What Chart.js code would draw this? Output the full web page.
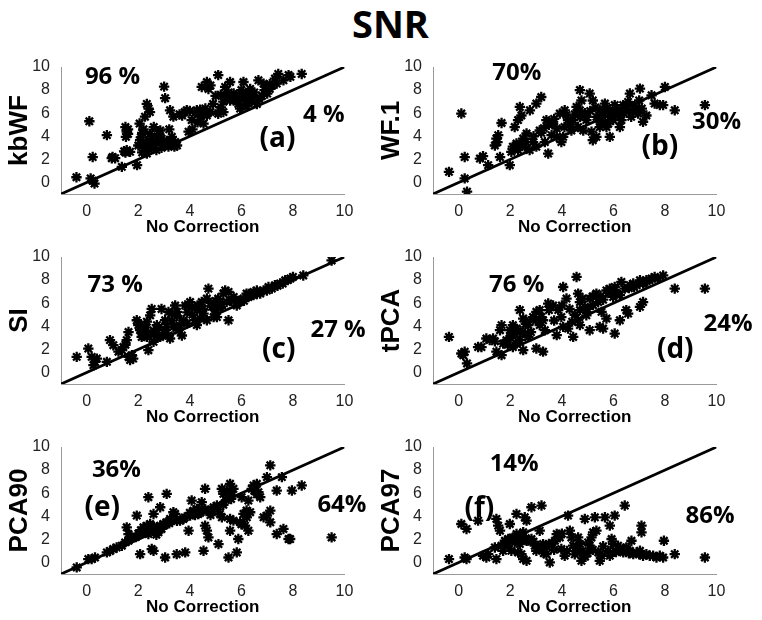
<!DOCTYPE html>
<html>
<head>
<meta charset="utf-8">
<script src="https://cdn.jsdelivr.net/npm/chart.js@4.4.1/dist/chart.umd.min.js"></script>
<style>
  body { margin: 0; background: #fff; }
  #wrap { position: relative; width: 762px; height: 620px; overflow: hidden; }
  #title { position: absolute; left: 0; top: -3px; width: 781px; text-align: center;
           font: bold 38px "Open Sans", sans-serif; color: #000; }
  canvas { position: absolute; }
</style>
</head>
<body>
<div id="wrap">
  <div id="title">SNR</div>
  <canvas id="pa" width="380" height="190" style="left:0;top:50px"></canvas>
  <canvas id="pb" width="390" height="190" style="left:372px;top:50px"></canvas>
  <canvas id="pc" width="380" height="190" style="left:0;top:240px"></canvas>
  <canvas id="pd" width="390" height="190" style="left:372px;top:240px"></canvas>
  <canvas id="pe" width="380" height="190" style="left:0;top:430px"></canvas>
  <canvas id="pf" width="390" height="190" style="left:372px;top:430px"></canvas>
</div>
<script>
'use strict'

// tick values shared by every panel
const xTicks = [0, 2, 4, 6, 8, 10];
const yTicks = [0, 2, 4, 6, 8, 10];
const axisRange = [-1, 10];   // also the ends of the y = x line

// panel names (y axis titles) and the text shown in each panel
const methods = ['kbWF', 'WF.1', 'SI', 'tPCA', 'PCA90', 'PCA97'];
const aboveLine = ['96 %', '70%', '73 %', '76 %', '36%', '14%'];
const belowLine = ['4 %', '30%', '27 %', '24%', '64%', '86%'];
const tags = ['(a)', '(b)', '(c)', '(d)', '(e)', '(f)'];

// points: [No Correction, method]
const kbWFPts = [[-0.4,0.45],[0.1,5.3],[0.23,2.2],[0.15,0.35],[0.3,-0.1],[0.22,0.15],[0.78,4.1],[0.97,2.1],[1.1,2.1],[1.0,2.2],
  [1.36,1.35],[1.5,4.8],[1.55,4.4],[1.52,3.95],[1.6,4.6],[1.55,2.8],[1.68,2.65],[1.5,2.6],[1.95,1.5],[2.05,5.1],
  [2.07,3.66],[2.2,3.37],[2.0,3.2],[2.1,3.9],[2.15,4.3],[2.33,6.8],[2.4,6.4],[2.26,5.7],[2.45,4.2],[2.5,3.8],
  [2.6,3.4],[2.4,2.9],[2.7,2.8],[2.33,2.5],[2.25,3.0],[2.6,4.8],[2.85,4.5],[2.75,4.0],[2.9,3.8],[3.0,8.3],
  [3.04,7.3],[2.85,3.5],[3.04,3.2],[3.17,3.1],[2.9,3.0],[3.23,6.25],[3.36,5.7],[3.3,3.95],[3.43,3.5],[3.5,3.2],
  [3.2,4.6],[3.6,5.9],[3.7,5.8],[3.88,6.25],[4.07,5.4],[3.95,4.4],[4.1,4.6],[4.27,6.25],[4.4,5.7],[4.53,5.1],
  [4.66,5.8],[4.3,5.2],[4.46,8.27],[4.66,8.7],[4.72,8.1],[4.9,6.8],[4.8,6.1],[5.1,9.3],[5.17,6.25],[5.1,5.95],
  [5.3,6.1],[5.0,7.5],[5.37,8.27],[5.43,7.55],[5.56,8.7],[5.56,7.1],[5.7,7.7],[5.82,7.4],[5.88,6.8],[5.95,6.4],
  [6.0,8.0],[6.08,8.7],[6.2,7.7],[6.27,7.1],[6.34,8.1],[6.1,7.2],[6.47,7.4],[6.6,6.8],[6.4,7.0],[6.66,8.85],
  [6.86,8.56],[7.0,8.27],[7.1,8.1],[7.0,7.7],[6.9,8.0],[7.3,9.0],[7.43,9.4],[7.37,8.56],[7.2,8.4],[7.63,8.85],
  [7.83,9.3],[7.9,9.15],[8.34,9.4],[5.3,7.0],[5.9,7.6],[6.3,7.5],[4.2,6.0],[3.8,6.1],
  [2.3,3.5],[2.5,3.1],[2.7,3.6],[2.8,4.2],[3.1,3.6],[3.3,3.3],[2.2,4.6],[2.45,6.1],[4.5,6.0],[4.6,6.4],
  [4.0,6.2],[4.4,6.3],[5.2,7.6],[5.5,7.8],[5.7,7.1],[6.0,7.5],[6.2,6.6],[6.5,7.8],[6.7,7.2],[6.8,7.5],
  [7.1,8.5],[6.0,6.6],[5.2,6.5],[4.8,8.4],[1.45,2.7],[1.6,4.2],[3.4,3.1],[2.15,2.6]];

const wf1Pts = [[-0.38,0.92],[0.1,5.97],[0.23,2.2],[0.23,0.35],[0.32,-0.8],[0.82,2.07],[0.94,2.28],[1.14,1.5],[1.4,3.2],[1.46,3.8],
  [1.53,4.1],[1.6,2.2],[1.66,5.15],[1.98,1.5],[2.04,2.65],[2.1,3.1],[2.24,3.37],[2.17,4.8],[2.3,5.4],[2.37,6.54],
  [2.43,5.8],[2.5,3.8],[2.63,4.24],[2.56,3.1],[2.75,2.8],[2.76,6.25],[3.01,6.83],[3.14,4.5],[3.2,7.4],[2.88,3.5],
  [3.01,3.1],[3.34,3.5],[3.47,2.5],[3.4,5.4],[3.66,5.1],[3.8,4.67],[3.6,4.1],[3.8,3.95],[3.92,5.97],[4.11,6.25],
  [4.24,5.4],[4.37,4.5],[4.05,3.95],[3.98,3.5],[4.57,6.54],[4.7,8.0],[4.76,7.1],[4.7,5.68],[4.83,4.5],[4.63,4.8],
  [5.08,7.7],[5.2,7.1],[4.95,5.4],[5.15,4.4],[5.2,3.66],[5.34,3.95],[5.47,6.25],[5.54,5.8],[5.6,5.4],[5.67,6.83],
  [5.73,6.4],[5.86,5.97],[5.86,5.4],[5.86,3.95],[5.99,6.25],[6.05,6.7],[6.18,5.8],[6.25,4.8],[6.31,5.4],[6.38,6.7],
  [6.5,6.4],[6.57,6.97],[6.69,5.68],[6.77,6.1],[6.9,6.4],[6.64,7.7],[7.03,8.13],[6.96,5.97],[7.15,5.25],[7.28,5.8],
  [7.48,7.55],[7.6,6.83],[7.8,6.7],[7.93,6.7],[8.0,8.27],[8.38,6.25],[9.55,6.7],[4.18,5.83],[4.44,5.4],[4.7,6.25],
  [4.95,5.68],[5.34,5.68],[5.73,4.8],[5.99,5.4],[5.47,4.8],
  [2.2,3.0],[2.4,3.3],[2.6,3.5],[2.3,2.8],[2.9,4.0],[3.2,4.3],[3.5,5.0],[3.7,5.5],[4.3,5.0],[4.5,5.9],
  [4.9,6.0],[5.1,6.2],[5.3,6.5],[5.6,6.0],[5.8,5.1],[6.0,5.9],[6.2,6.3],[6.4,6.0],[6.6,6.2],[6.8,6.6],
  [7.0,7.1],[7.1,6.4],[5.5,5.2],[4.1,4.8],[1.5,3.5],[3.3,4.7]];

const siPts = [[-0.39,1.35],[0.06,2.07],[0.19,1.35],[0.32,0.92],[0.26,0.63],[0.39,1.2],[0.78,0.92],[0.9,2.8],[1.03,2.36],[1.23,1.8],
  [1.36,1.93],[1.42,2.2],[1.55,2.8],[1.62,3.5],[1.62,1.35],[1.68,1.07],[1.75,1.5],[1.94,4.52],[2.0,4.1],[2.07,3.66],
  [2.13,3.5],[2.2,3.2],[2.13,3.08],[2.33,4.4],[2.46,4.95],[2.52,5.5],[2.39,1.93],[2.59,2.65],[2.72,3.2],[2.85,3.08],
  [2.72,4.1],[3.04,4.52],[3.1,3.95],[2.9,5.5],[3.17,5.25],[3.3,5.1],[3.5,5.25],[3.43,5.8],[3.36,3.95],[3.56,3.66],
  [3.75,4.52],[3.88,4.24],[3.69,3.2],[3.82,5.8],[4.01,6.1],[4.07,5.68],[4.27,5.4],[4.2,4.52],[4.4,4.67],[4.53,5.1],
  [4.66,4.52],[4.46,6.1],[4.66,6.4],[4.72,7.26],[4.85,5.68],[4.98,5.4],[5.05,4.8],[5.1,6.4],[5.3,6.83],[5.37,7.1],
  [5.5,6.97],[5.24,5.97],[5.43,6.1],[5.5,4.52],[5.7,6.54],[5.82,5.8],[5.95,6.1],[6.08,6.4],[6.27,6.54],[6.47,6.97],
  [6.6,7.1],[6.73,6.83],[6.86,7.1],[7.05,7.4],[7.18,7.26],[7.3,7.55],[7.5,7.7],[7.7,7.98],[7.9,8.13],[8.0,8.27],
  [8.4,8.4],[9.5,9.7],[6.2,6.83],[6.47,6.7],[6.99,7.1],[2.07,4.1],[2.26,3.5],[2.33,3.08],[3.04,3.66],[3.17,3.2],
  [3.23,2.94],[4.27,4.1],[4.92,4.8],[5.1,5.68],
  [2.2,3.7],[2.3,3.9],[2.5,3.3],[2.6,3.6],[2.8,3.9],[3.0,3.4],[3.3,4.5],[3.5,4.9],[3.6,4.1],[3.9,5.2],
  [4.1,5.0],[4.3,5.8],[4.5,5.5],[4.8,6.0],[5.0,6.2],[5.2,5.6],[5.6,6.2],[5.9,6.2],[6.1,6.2],[6.3,6.8],
  [6.6,6.8],[7.4,7.5],[7.6,7.7],[7.8,8.0],[1.5,2.4],[1.8,1.2]];

const tPCAPts = [[-0.38,3.08],[0.1,1.64],[0.23,1.8],[0.17,1.5],[0.32,0.78],[0.75,2.2],[0.88,2.2],[1.07,2.94],[1.2,2.8],[1.33,2.94],
  [1.46,1.8],[1.66,1.5],[1.66,4.1],[1.6,3.66],[1.72,2.5],[1.85,2.8],[1.98,3.66],[2.04,3.37],[2.1,4.1],[2.24,3.8],
  [2.1,2.2],[2.24,2.5],[2.37,2.8],[2.37,5.4],[2.5,4.67],[2.63,4.38],[2.7,4.1],[2.56,3.37],[2.7,3.08],[2.5,1.93],
  [2.88,4.8],[3.01,5.25],[3.14,5.4],[3.01,2.07],[3.27,1.8],[3.14,4.1],[3.27,4.52],[3.34,3.66],[3.47,5.97],[3.66,5.8],
  [3.8,3.23],[3.86,5.4],[3.98,4.8],[4.05,3.95],[4.05,7.4],[4.18,6.4],[4.24,3.8],[4.44,3.08],[4.57,8.27],[4.63,6.83],
  [4.7,6.1],[4.7,5.4],[4.63,4.52],[4.7,4.1],[4.89,5.68],[4.95,4.95],[5.08,6.4],[5.08,3.66],[5.21,5.83],[5.34,6.83],
  [5.41,6.1],[5.54,5.25],[5.73,4.67],[5.47,3.95],[5.6,3.8],[5.73,7.1],[5.86,7.26],[5.99,6.54],[6.05,7.4],[6.05,3.37],
  [6.25,6.7],[6.31,7.84],[6.44,7.26],[6.64,7.55],[6.25,4.52],[6.5,5.4],[6.57,5.1],[6.77,7.7],[6.9,7.55],[7.03,7.98],
  [7.15,7.7],[7.03,5.68],[7.15,6.1],[7.28,7.98],[7.48,8.13],[7.6,8.27],[7.73,8.13],[7.93,8.4],[8.38,7.26],[9.55,7.26],
  [2.0,3.0],[2.2,3.3],[2.4,3.6],[2.6,4.2],[2.8,3.5],[3.0,4.5],[3.2,4.8],[3.5,5.4],[3.7,4.5],[4.3,5.5],
  [4.5,5.0],[4.8,6.4],[5.0,5.5],[5.2,6.6],[5.5,6.6],[5.6,6.3],[5.8,6.9],[6.1,6.9],[6.6,7.3],[6.8,7.4],
  [7.2,7.8],[7.4,8.0],[1.4,2.7],[1.9,2.4],[4.0,5.8],[4.4,4.4]];

const pca90Pts = [[-0.39,-0.43],[0.06,0.29],[0.19,0.29],[0.32,0.43],[0.78,0.87],[0.9,1.0],[1.03,1.16],[1.16,1.3],[1.36,1.45],[1.49,1.74],
  [1.62,1.88],[1.75,2.17],[1.55,3.04],[1.62,2.46],[1.94,4.06],[2.07,0.72],[2.07,2.46],[2.2,3.04],[2.26,2.75],[2.33,3.19],
  [2.39,2.46],[2.46,3.33],[2.52,2.9],[2.59,2.75],[2.72,3.04],[2.78,2.61],[2.85,3.19],[2.39,5.65],[2.52,1.16],[2.59,1.01],
  [2.59,4.2],[2.85,4.78],[2.97,3.33],[3.1,3.48],[3.23,3.77],[3.36,3.91],[3.43,4.2],[3.04,0.43],[3.1,5.94],[3.36,4.35],
  [3.49,0.72],[3.82,0.87],[3.62,3.62],[3.75,3.77],[3.95,2.75],[4.01,4.06],[4.07,5.36],[4.14,4.49],[4.27,4.64],[4.33,4.2],
  [4.46,5.22],[4.53,4.49],[4.59,3.19],[4.59,6.38],[4.66,2.75],[4.72,2.17],[4.53,1.01],[4.79,4.49],[4.92,4.78],[5.05,4.93],
  [5.17,4.2],[5.24,3.91],[5.11,1.59],[5.24,6.38],[5.3,5.94],[5.43,6.23],[5.56,6.81],[5.63,5.8],[5.69,6.38],[5.5,0.43],
  [5.56,2.75],[5.56,3.77],[5.69,3.62],[5.82,0.87],[5.88,2.03],[5.95,3.48],[6.01,5.65],[6.08,4.2],[6.14,3.19],[6.21,3.91],
  [6.27,2.75],[6.34,4.35],[6.27,5.36],[6.4,6.38],[6.47,6.67],[6.6,6.81],[6.66,6.09],[6.73,5.65],[6.86,3.91],[6.99,4.06],
  [7.12,4.49],[7.12,3.48],[6.99,7.39],[7.12,8.41],[7.37,6.23],[7.37,2.46],[7.57,7.39],[7.63,2.9],[7.83,2.03],[7.89,2.03],
  [7.96,6.23],[8.34,6.67],[9.5,2.17],
  [2.1,2.8],[2.3,2.6],[2.4,3.0],[2.6,3.1],[2.7,2.4],[2.9,2.9],[3.0,3.2],[3.2,3.4],[3.5,3.6],[3.8,3.9],
  [4.0,4.3],[4.2,4.1],[4.4,4.3],[4.6,4.6],[4.8,4.1],[4.9,4.4],[5.1,4.6],[5.3,5.0],[5.4,5.4],[5.6,5.5],
  [6.0,3.3],[6.2,4.5],[6.5,6.2],[6.6,5.9],[1.9,2.2],[2.0,2.5]];

const pca97Pts = [[-0.38,0.29],[0.1,3.33],[0.3,2.9],[0.23,0.43],[0.3,0.29],[0.75,3.62],[0.94,0.58],[1.07,0.43],[1.14,0.72],[1.4,1.3],
  [1.46,0.29],[1.46,3.77],[1.53,3.19],[1.6,2.75],[1.66,1.45],[1.72,1.01],[1.79,1.88],[1.92,2.03],[1.98,3.33],[2.04,1.01],
  [2.1,2.17],[2.17,1.74],[2.24,4.2],[2.24,2.46],[2.3,2.03],[2.37,1.59],[2.3,0.87],[2.43,0.72],[2.5,0.29],[2.43,2.17],
  [2.5,2.61],[2.56,3.91],[2.63,3.62],[2.63,1.88],[2.63,0.14],[2.82,4.78],[3.21,4.93],[2.82,2.03],[2.95,1.45],[3.01,1.01],
  [3.14,2.75],[3.27,1.59],[3.34,1.16],[3.4,0.72],[3.53,0.0],[3.6,1.59],[3.73,1.88],[3.8,2.46],[3.92,2.17],[3.98,1.16],
  [4.11,0.58],[4.24,4.06],[4.31,2.75],[4.37,2.17],[4.44,1.45],[4.63,2.17],[4.7,1.59],[4.7,0.87],[4.76,0.14],[4.89,3.77],
  [5.02,1.74],[5.08,1.45],[5.15,2.17],[5.21,2.61],[5.28,3.91],[5.34,2.75],[5.41,0.87],[5.47,0.14],[5.54,0.58],[5.67,3.91],
  [5.86,3.19],[5.93,2.03],[5.99,1.59],[5.86,0.58],[6.05,4.06],[6.18,1.45],[6.25,1.01],[6.38,0.87],[6.44,4.93],[6.5,1.3],
  [6.64,1.01],[6.7,1.88],[6.77,0.72],[6.9,0.87],[7.03,1.01],[7.09,3.19],[7.09,2.61],[7.15,0.58],[7.28,0.72],[7.41,0.58],
  [7.54,0.58],[7.67,0.43],[7.8,0.58],[7.93,0.43],[7.96,1.88],[8.38,0.72],[9.55,0.43],
  [2.0,2.0],[2.2,1.9],[2.3,2.3],[2.4,2.0],[2.6,2.1],[2.7,1.9],[2.9,1.8],[3.1,1.4],[3.3,0.8],[3.7,1.1],
  [4.0,2.5],[4.2,1.0],[4.5,0.7],[4.6,1.2],[4.8,1.0],[5.0,0.8],[5.2,1.1],[5.6,1.4],[5.8,1.0],[6.1,0.9],
  [6.4,1.2],[6.6,0.8],[7.0,0.7],[1.9,1.4],[3.5,1.6],[4.9,0.5]];

const allPts = [kbWFPts, wf1Pts, siPts, tPCAPts, pca90Pts, pca97Pts];

// where the in-panel texts sit, in data units
const labelSpots = [
  {up: [1.0, 9.1], down: [9.2, 5.8], tag: [7.4, 3.75]},
  {up: [2.25, 9.5], down: [10.0, 5.2], tag: [7.8, 3.05]},
  {up: [1.1, 7.6], down: [9.75, 3.65], tag: [7.45, 1.95]},
  {up: [2.25, 7.55], down: [10.45, 4.2], tag: [8.4, 1.95]},
  {up: [1.15, 8.0], down: [9.9, 5.0], tag: [0.6, 4.75]},
  {up: [2.15, 8.55], down: [9.75, 4.0], tag: [0.8, 4.6]}
];

const canvasIds = ['pa', 'pb', 'pc', 'pd', 'pe', 'pf'];

const panelText = {
  id: 'panelText',
  afterDatasetsDraw(chart, args, opts) {
    const ctx = chart.ctx;
    const sx = chart.scales.x, sy = chart.scales.y;
    ctx.save();
    ctx.fillStyle = '#000';
    ctx.textAlign = 'center';
    ctx.textBaseline = 'middle';
    opts.items.forEach(it => {
      ctx.font = it.font;
      ctx.fillText(it.text, sx.getPixelForValue(it.pos[0]), sy.getPixelForValue(it.pos[1]));
    });
    ctx.restore();
  }
};

function makePanel(i) {
  const canvas = document.getElementById(canvasIds[i]);
  const spot = labelSpots[i];
  const pctFont = 'bold 24px "Open Sans"';
  return new Chart(canvas.getContext('2d'), {
    type: 'scatter',
    data: {
      datasets: [{
        type: 'line',
        data: axisRange.map(v => ({x: v, y: v})),
        borderColor: '#000',
        borderWidth: 2.8,
        pointRadius: 0
      }, {
        data: allPts[i].map(p => ({x: p[0], y: p[1]})),
        pointStyle: 'star',
        radius: 5.2,
        borderWidth: 2.3,
        borderColor: '#000',
        backgroundColor: '#000'
      }]
    },
    options: {
      responsive: false,
      animation: false,
      layout: {padding: {top: 17, right: canvas.width - 344.5, left: 0, bottom: 0}},
      plugins: {
        legend: {display: false},
        tooltip: {enabled: false},
        panelText: {items: [
          {text: aboveLine[i], pos: spot.up, font: pctFont},
          {text: belowLine[i], pos: spot.down, font: pctFont},
          {text: tags[i], pos: spot.tag, font: 'bold 28px "Open Sans"'}
        ]}
      },
      scales: {
        x: {
          type: 'linear', min: axisRange[0], max: axisRange[1],
          afterBuildTicks: s => { s.ticks = xTicks.map(v => ({value: v})); },
          afterFit: s => { s.height = 46; },
          grid: {display: false},
          border: {color: '#999', width: 1},
          ticks: {font: {family: 'Liberation Sans', size: 16}, color: '#222', padding: 0, maxRotation: 0},
          title: {display: true, text: 'No Correction', color: '#000',
                  font: {family: 'Liberation Sans', size: 17, weight: 'bold'}, padding: {top: 0, bottom: 2}}
        },
        y: {
          type: 'linear', min: axisRange[0], max: axisRange[1],
          afterBuildTicks: s => { s.ticks = yTicks.map(v => ({value: v})); },
          afterFit: s => { s.width = 61; },
          grid: {display: false},
          border: {color: '#999', width: 1},
          ticks: {font: {family: 'Liberation Sans', size: 16}, color: '#222', padding: 3},
          title: {display: true, text: methods[i], color: '#000',
                  font: {family: 'Liberation Sans', size: 26, weight: 'bold'}, padding: {top: 4, bottom: 0}}
        }
      }
    },
    plugins: [panelText]
  });
}

for (let i = 0; i < methods.length; i++) {
  makePanel(i);
}
</script>
</body>
</html>
